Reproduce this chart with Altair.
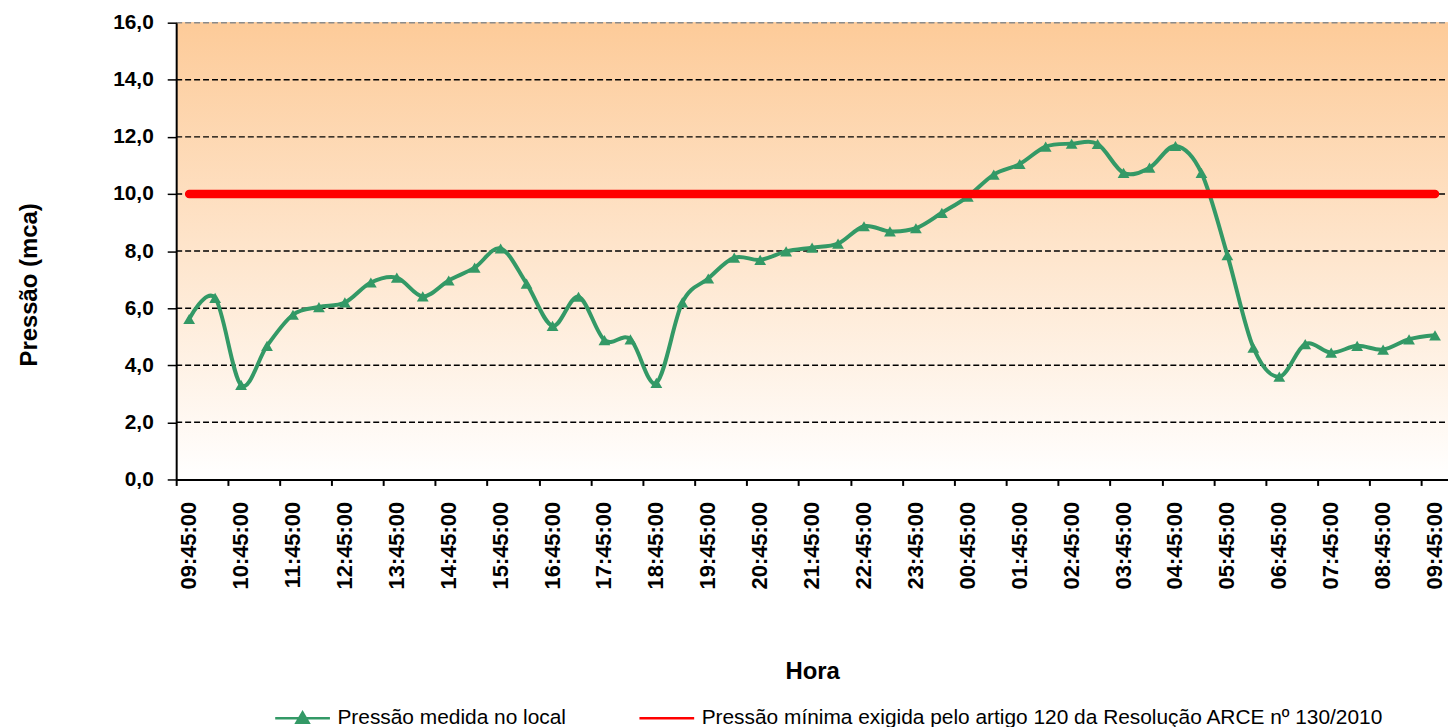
import altair as alt
import pandas as pd

horas = [
    "09:45:00", "10:15:00", "10:45:00", "11:15:00", "11:45:00", "12:15:00", "12:45:00",
    "13:15:00", "13:45:00", "14:15:00", "14:45:00", "15:15:00", "15:45:00", "16:15:00",
    "16:45:00", "17:15:00", "17:45:00", "18:15:00", "18:45:00", "19:15:00", "19:45:00",
    "20:15:00", "20:45:00", "21:15:00", "21:45:00", "22:15:00", "22:45:00", "23:15:00",
    "23:45:00", "00:15:00", "00:45:00", "01:15:00", "01:45:00", "02:15:00", "02:45:00",
    "03:15:00", "03:45:00", "04:15:00", "04:45:00", "05:15:00", "05:45:00", "06:15:00",
    "06:45:00", "07:15:00", "07:45:00", "08:15:00", "08:45:00", "09:15:00", "09:45:00",
]
pressao = [
    5.62, 6.36, 3.31, 4.68, 5.77, 6.04, 6.20, 6.90, 7.07, 6.41,
    6.97, 7.42, 8.09, 6.86, 5.38, 6.40, 4.88, 4.91, 3.38, 6.20,
    7.04, 7.77, 7.69, 7.99, 8.12, 8.26, 8.87, 8.69, 8.80, 9.34,
    9.91, 10.68, 11.05, 11.66, 11.76, 11.75, 10.74, 10.92, 11.68, 10.74,
    7.86, 4.62, 3.60, 4.74, 4.44, 4.68, 4.55, 4.91, 5.05,
]
limite_minimo = 10.0
y_ticks = [0, 2, 4, 6, 8, 10, 12, 14, 16]

serie_medida = "Pressão medida no local"
serie_minima = "Pressão mínima exigida pelo artigo 120 da Resolução ARCE nº 130/2010"

keys = [f"{i:02d}|{h}" for i, h in enumerate(horas)]
df_med = pd.DataFrame({"k": keys, "v": pressao, "serie": serie_medida})
df_min = pd.DataFrame({"k": keys, "v": [limite_minimo] * len(keys), "serie": serie_minima})
df_grid = pd.DataFrame({"v": y_ticks[1:]})

W, H = 1278, 459
FONT = "Liberation Sans"
GREEN = "#339966"
RED = "#FF0000"

x_axis = alt.Axis(
    values=keys[::2],
    labelExpr="split(datum.value, '|')[1]",
    labelAngle=-90, labelAlign="right", labelBaseline="middle",
    labelFont=FONT, labelFontSize=22, labelFontWeight="bold", labelColor="black",
    labelPadding=16, labelOverlap=False,
    tickSize=6, tickColor="black", tickWidth=2,
    domainColor="black", domainWidth=2,
    bandPosition=0, grid=False,
    titleFont=FONT, titleFontSize=24, titleFontWeight="bold", titleColor="black",
    titleX=639, titleY=193, titleBaseline="middle", titleAlign="center",
    zindex=1,
)
y_axis = alt.Axis(
    values=y_ticks,
    labelExpr="replace(format(datum.value, '.1f'), '.', ',')",
    labelFont=FONT, labelFontSize=21, labelFontWeight="bold", labelColor="black",
    labelPadding=14,
    tickSize=9, tickColor="black", tickWidth=1.5,
    domainColor="black", domainWidth=2, grid=False,
    titleFont=FONT, titleFontSize=24, titleFontWeight="bold", titleColor="black",
    titleX=-147, titleY=263, titleAngle=270, titleBaseline="middle", titleAlign="center",
    zindex=1,
)

x_enc = alt.X(
    "k:O",
    scale=alt.Scale(type="band", domain=keys, paddingInner=0, paddingOuter=0),
    axis=x_axis, title="Hora",
)
y_enc = alt.Y(
    "v:Q",
    scale=alt.Scale(domain=[0, 16], nice=False, zero=True),
    axis=y_axis, title="Pressão (mca)",
)

TRI = ("M-1,0H1"
       "M-0.22,0.16L0,-0.21L0.22,0.16Z"
       "M-0.13,0.10L0,-0.12L0.13,0.10Z"
       "M-0.05,0.05L0,-0.04L0.05,0.05Z")
legend = alt.Legend(
    orient="none", legendX=98, legendY=670, direction="horizontal", title=None,
    labelFont=FONT, labelFontSize=21, labelColor="black", labelLimit=2000,
    symbolType={"expr": f"datum.index === 0 ? '{TRI}' : 'M-1,0H1'"},
    symbolFillColor={"expr": "datum.index === 0 ? '#339966' : 'transparent'"},
    symbolSize=3025, symbolStrokeWidth=2.5,
    labelOffset=6, columnPadding=68,
)
color_enc = alt.Color(
    "serie:N",
    scale=alt.Scale(domain=[serie_medida, serie_minima], range=[GREEN, RED]),
    legend=legend,
)

bg = alt.Chart(df_grid).mark_rect(
    fill={
        "gradient": "linear",
        "x1": 0, "x2": 0, "y1": 0, "y2": 1,
        "stops": [
            {"offset": 0, "color": "#FDCB99"},
            {"offset": 1, "color": "#FFFFFF"},
        ],
    }
).encode(
    x=alt.value(0), x2=alt.value(W), y=alt.value(0), y2=alt.value(H)
)

grid = alt.Chart(df_grid).mark_rule(strokeDash=[6, 3], strokeWidth=1.5).encode(
    y=y_enc,
    x=alt.value(0), x2=alt.value(W),
    color=alt.when(alt.datum.v == 16).then(alt.value("#8a8a8a")).otherwise(alt.value("#000000")),
)

linha = alt.Chart(df_med).mark_line(
    interpolate="cardinal", strokeWidth=4
).encode(x=x_enc, y=y_enc, color=color_enc)

pontos = alt.Chart(df_med).mark_point(
    shape="triangle-up", filled=True, size=140, opacity=1, color=GREEN, strokeWidth=0
).encode(x=x_enc, y=y_enc)

minimo = alt.Chart(df_min).mark_line(
    strokeWidth=8.5, strokeCap="round"
).encode(x=x_enc, y=y_enc, color=color_enc)

chart = alt.layer(bg, grid, linha, pontos, minimo).properties(
    width=W, height=H,
    autosize=alt.AutoSizeParams(type="none"),
    padding={"left": 169, "top": 13, "right": 0, "bottom": 250},
    background="white",
).configure_view(stroke=None)

chart.save("out.html", embed_options={"renderer": "svg", "actions": False})
